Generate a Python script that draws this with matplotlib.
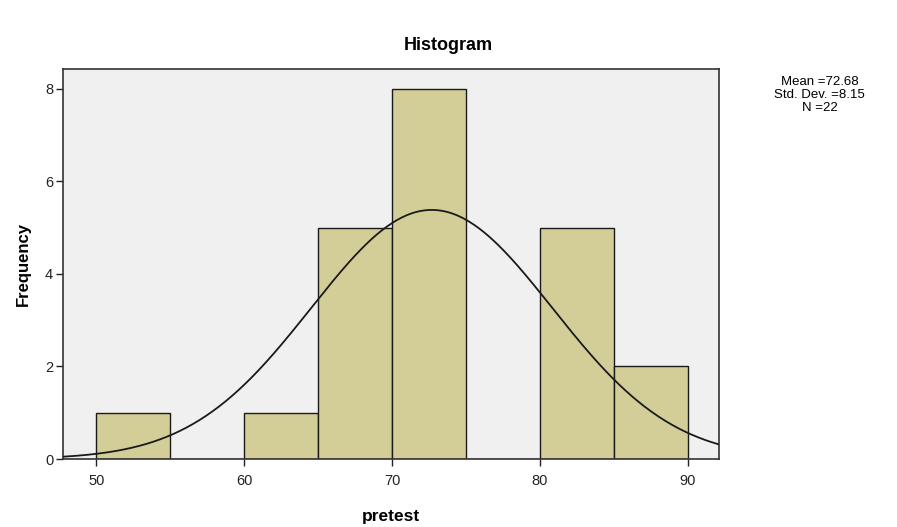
import numpy as np
import matplotlib
matplotlib.use("Agg")
import matplotlib.pyplot as plt

# Histogram counts (bin width 5)
bin_edges = [50, 55, 60, 65, 70, 75, 80, 85, 90]
counts = [1, 0, 1, 5, 8, 0, 5, 2]

# Summary statistics shown at the right
mean = 72.68
std_dev = 8.15
n = 22

x_ticks = [50, 60, 70, 80, 90]
y_ticks = [0, 2, 4, 6, 8]

plt.rcParams['font.family'] = ['Liberation Sans', 'DejaVu Sans']

fig = plt.figure(figsize=(8.97, 5.27), dpi=100)
ax = fig.add_axes([0.0702, 0.129, 0.7314, 0.740])
ax.set_facecolor("#F0F0F0")

widths = np.diff(bin_edges)
ax.bar(bin_edges[:-1], counts, width=widths, align="edge",
       color="#D3CE97", edgecolor="#1a1a1a", linewidth=1.0, zorder=2)

# Normal curve scaled to counts
xlim = (47.75, 92.1)
xs = np.linspace(xlim[0], xlim[1], 400)
bw = bin_edges[1] - bin_edges[0]
ys = n * bw / (std_dev * np.sqrt(2 * np.pi)) * np.exp(-0.5 * ((xs - mean) / std_dev) ** 2)
ax.plot(xs, ys, color="#1a1a1a", linewidth=1.3, zorder=3)

ax.set_xlim(*xlim)
ax.set_ylim(0, 8.43)
ax.set_xticks(x_ticks)
ax.set_yticks(y_ticks)
ax.tick_params(axis="both", direction="out", length=5, width=1, labelsize=10.5,
               colors="#222222")
ax.tick_params(axis="x", pad=6)
ax.tick_params(axis="y", pad=2)
for s in ax.spines.values():
    s.set_color("#333333")
    s.set_linewidth(1.2)

ax.set_xlabel("pretest", fontsize=12.5, fontweight="bold", labelpad=15)
ax.set_ylabel("Frequency", fontsize=12, fontweight="bold", labelpad=10)
fig.text(0.5, 0.913, "Histogram", ha="center", va="center", fontsize=13,
         fontweight="bold")

fig.text(0.914, 0.820,
         "Mean =%.2f\nStd. Dev. =%.2f\nN =%d" % (mean, std_dev, n),
         ha="center", va="center", fontsize=9.5, linespacing=1.1)

fig.savefig("out.png", dpi=100)
